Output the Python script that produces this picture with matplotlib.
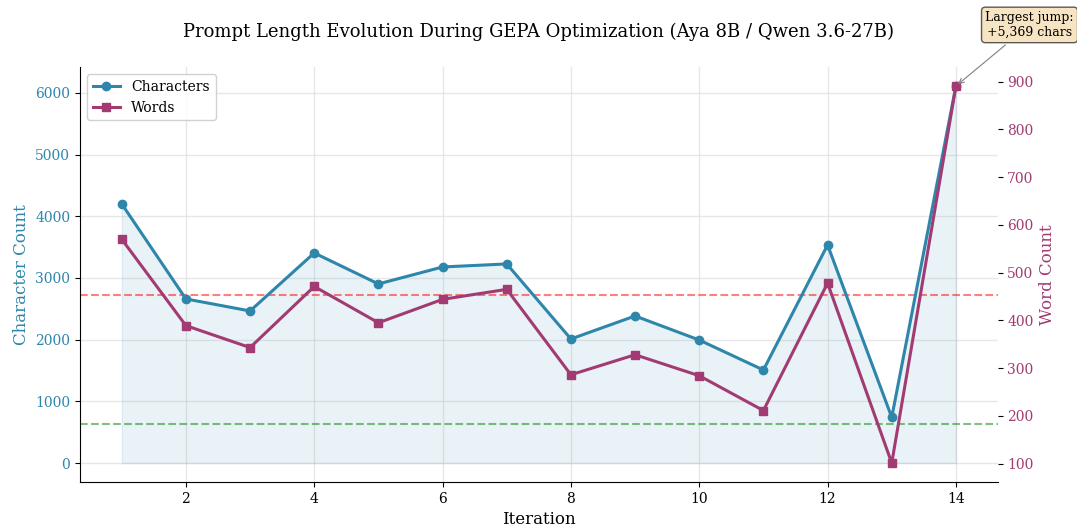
import matplotlib
matplotlib.use("Agg")
import matplotlib.pyplot as plt

plt.rcParams['font.family'] = ['DejaVu Serif']

iterations = [1, 2, 3, 4, 5, 6, 7, 8, 9, 10, 11, 12, 13, 14]
char_counts = [4200, 2660, 2465, 3405, 2903, 3178, 3227, 2011, 2384, 1994, 1508, 3535, 741, 6110]
word_counts = [570, 389, 343, 471, 395, 444, 465, 286, 328, 284, 211, 478, 101, 891]
red_ref = 2724
green_ref = 637
title = "Prompt Length Evolution During GEPA Optimization (Aya 8B / Qwen 3.6-27B)"
jump_text = "Largest jump:\n+5,369 chars"

c_char = '#2E86AB'
c_word = '#A23B72'

fig = plt.figure(figsize=(10.77, 5.29), dpi=100)
ax = fig.add_axes([0.0743, 0.089, 0.852, 0.784])
ax2 = ax.twinx()

l1, = ax.plot(iterations, char_counts, 'o-', color=c_char, lw=2.2, ms=6, label='Characters', zorder=3)
ax.fill_between(iterations, char_counts, 0, color=c_char, alpha=0.1, zorder=1)
l2, = ax2.plot(iterations, word_counts, 's-', color=c_word, lw=2.2, ms=6, label='Words', zorder=3)

ax.axhline(red_ref, color='red', ls='--', lw=1.5, alpha=0.5)
ax.axhline(green_ref, color='green', ls='--', lw=1.5, alpha=0.5)

ax.grid(True, color='#dddddd', alpha=0.7, lw=1)
ax.set_axisbelow(True)
ax.set_xticks([2, 4, 6, 8, 10, 12, 14])

ax.set_xlabel('Iteration', fontsize=12)
ax.set_ylabel('Character Count', fontsize=12, color=c_char)
ax2.set_ylabel('Word Count', fontsize=12, color=c_word)
ax.tick_params(axis='y', labelcolor=c_char, labelsize=10)
ax.tick_params(axis='x', labelsize=10)
ax2.tick_params(axis='y', labelcolor=c_word, labelsize=10)

for a in (ax, ax2):
    a.spines['top'].set_visible(False)
ax.spines['right'].set_visible(False)
ax2.spines['right'].set_visible(False)
ax2.spines['left'].set_visible(False)
ax2.spines['bottom'].set_visible(False)

ax.set_title(title, fontsize=13, pad=22)

ax.legend(handles=[l1, l2], loc='upper left', fontsize=10, framealpha=0.9)

ax2.annotate(jump_text, xy=(iterations[-1], word_counts[-1]), xytext=(53, 44),
             textcoords='offset points', ha='center', va='center', fontsize=9,
             bbox=dict(boxstyle='round,pad=0.3', facecolor='wheat', alpha=0.8, edgecolor='#333333'),
             arrowprops=dict(arrowstyle='->', color='gray', lw=0.8),
             annotation_clip=False)

fig.savefig('out.png', dpi=100)
